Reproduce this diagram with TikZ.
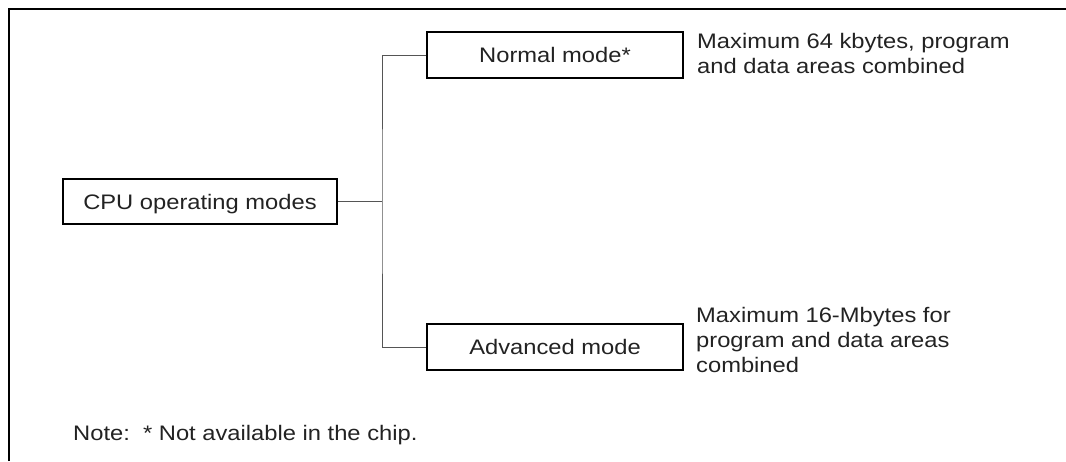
\documentclass[tikz,border=0pt]{standalone}
\usepackage{fontspec}
\setmainfont{Liberation Sans}[FakeStretch=1.13]
\definecolor{txt}{HTML}{222222}
\definecolor{conn}{HTML}{555555}
\begin{document}
\begin{tikzpicture}[x=1pt,y=-1pt,
  modebox/.style={draw=black,line width=1.2pt,inner sep=0pt,minimum height=46pt,
    text height=15pt,text depth=0pt,text=txt,font=\fontsize{21}{25}\selectfont},
  desc/.style={inner sep=0pt,align=left,text=txt,font=\fontsize{21}{25}\selectfont},
  conline/.style={draw=conn,line width=0.9pt}]
\useasboundingbox (0,0) rectangle (1066,461);
\draw[line width=2pt] (9,461) -- (9,9) -- (1066,9);
\node[modebox,minimum width=274pt,minimum height=45pt] (cpu) at (200,201.5) {CPU operating modes};
\node[modebox,minimum width=256pt] (normal) at (555,55) {Normal mode*};
\node[modebox,minimum width=256pt] (adv) at (555,347) {Advanced mode};
\coordinate (j) at (382,201.5);
\draw[conline] (cpu.east) -- (j);
\draw[conline] (normal.west) -| (j) |- (adv.west);
\node[desc,anchor=north west] (d1) at (697,33) {Maximum 64 kbytes, program\\and data areas combined};
\node[desc,anchor=north west] (d2) at (696,307) {Maximum 16-Mbytes for\\program and data areas\\combined};
\node[desc,anchor=base west] (note) at (73,440) {Note:\ \ * Not available in the chip.};
\end{tikzpicture}
\end{document}
